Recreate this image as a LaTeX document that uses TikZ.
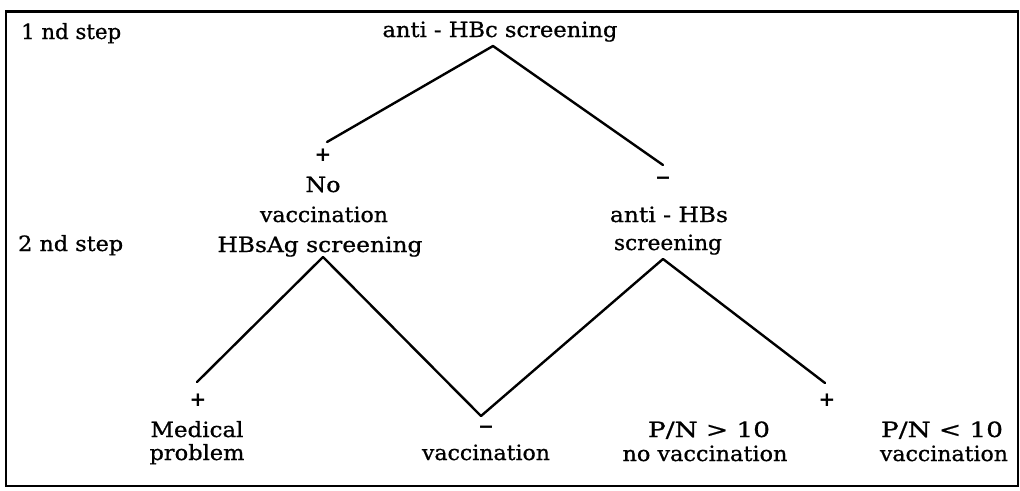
\documentclass[tikz,border=0pt]{standalone}
\usepackage{graphicx}
\usepackage{fontspec}
\setmainfont{DejaVu Serif}[FakeBold=0.8]
\newfontfamily\signfont{DejaVu Sans}
\newcommand\fw[2]{\resizebox{#1pt}{\height}{#2}}
\begin{document}
\begin{tikzpicture}[x=1pt,y=-1pt,
  lbl/.style={inner sep=0pt, anchor=base, font=\fontsize{21}{25}\selectfont},
  sign/.style={inner sep=0pt, anchor=center, font=\signfont\bfseries\fontsize{20}{22}\selectfont},
  branch/.style={line width=2.4pt, line join=round, line cap=round},
  frame/.style={line width=2pt}]
\useasboundingbox (0,0) rectangle (1020,490);
\draw[frame] (6,486) -- (6,11) -- (1018,11) -- (1018,486) -- cycle;
\draw[line width=3pt] (6,11) -- (1018,11);
% step labels
\node[lbl, anchor=base west] (s1) at (21,39) {\fw{100}{1 nd step}};
\node[lbl, anchor=base west] (s2) at (18,251) {\fw{105}{2 nd step}};
% first step
\node[lbl] (top) at (500,37) {\fw{235}{anti - HBc screening}};
\node[sign] (p1) at (323,155) {+};
\node[lbl] (nov1) at (323,192) {\fw{35}{No}};
\node[lbl] (nov2) at (324,222) {\fw{128}{vaccination}};
\node[lbl] (nov3) at (320,252) {\fw{205}{HBsAg screening}};
\node[sign] (m1) at (663,181) {\fw{16}{−}};
\node[lbl] (ahbs1) at (669,222) {\fw{118}{anti - HBs}};
\node[lbl] (ahbs2) at (668,250) {\fw{108}{screening}};
% second step
\node[sign] (p2) at (198,400) {+};
\node[lbl] (med1) at (197,437) {\fw{93}{Medical}};
\node[lbl] (med2) at (197,460) {\fw{95}{problem}};
\node[sign] (m2) at (486,430) {\fw{16}{−}};
\node[lbl] (vac1) at (486,460) {\fw{128}{vaccination}};
\node[sign] (p3) at (827,400) {+};
\node[lbl] (pn1a) at (709,437) {\fw{122}{P/N > 10}};
\node[lbl] (pn1b) at (705,461) {\fw{165}{no vaccination}};
\node[lbl] (pn2a) at (942,437) {\fw{122}{P/N < 10}};
\node[lbl] (pn2b) at (944,461) {\fw{128}{vaccination}};
% connector points
\coordinate (a1) at (493,46);
\coordinate (e1) at (327,142);
\coordinate (e2) at (663,165);
\coordinate (a2) at (323,257);
\coordinate (e3) at (197,382);
\coordinate (v)  at (481,416);
\coordinate (a3) at (663,259);
\coordinate (e4) at (825,383);
\draw[branch] (e1) -- (a1) -- (e2);
\draw[branch] (e3) -- (a2) -- (v) -- (a3) -- (e4);
\end{tikzpicture}
\end{document}
